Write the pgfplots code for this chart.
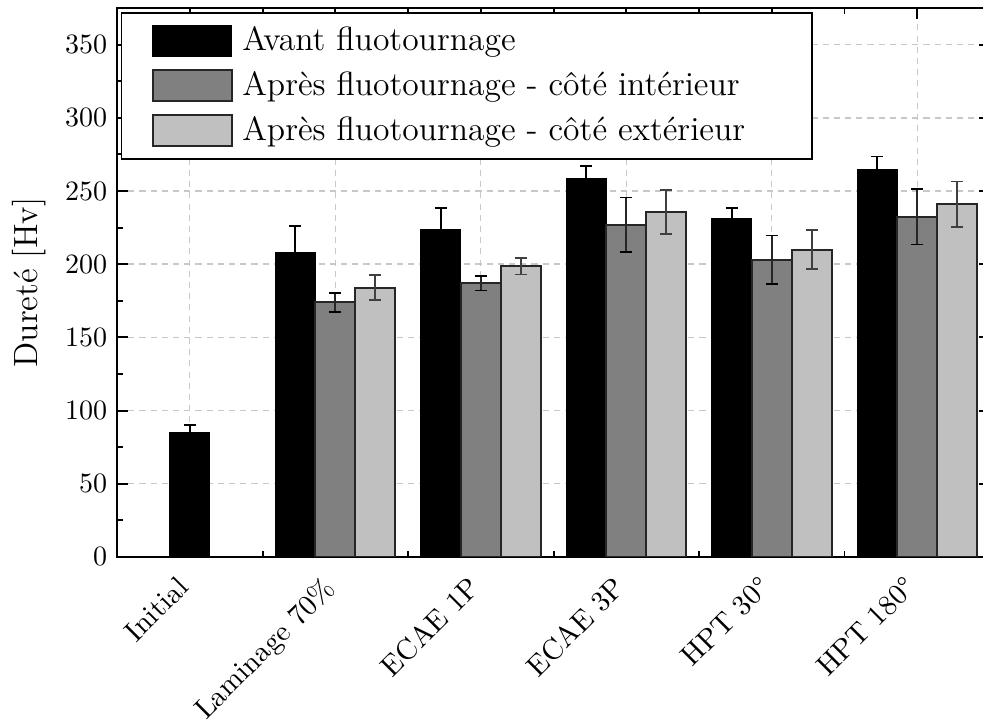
\documentclass[border=0pt]{standalone}
\usepackage{pgfplots}
\pgfplotsset{compat=1.18}
\definecolor{midgray}{HTML}{808080}
\definecolor{lgray}{HTML}{C0C0C0}
\definecolor{gridgray}{HTML}{C8C8C8}
\pgfplotsset{layers/mylayers/.define layer set={axis background,axis grid,main,axis ticks,axis lines,axis tick labels,axis descriptions,axis foreground}{}}
\begin{document}
\begin{tikzpicture}
\begin{axis}[
  set layers=mylayers,
  scale only axis, width=311.8pt, height=196pt,
  xmin=-0.5, xmax=5.5, ymin=0, ymax=375,
  xtick={0,1,2,3,4,5},
  xticklabels={Initial, Laminage 70\%, ECAE 1P, ECAE 3P, HPT 30°, HPT 180°},
  ytick={0,50,100,150,200,250,300,350},
  minor x tick num=1, minor y tick num=1,
  tick align=inside,
  major tick length=4pt, minor tick length=2.2pt,
  every tick/.style={black, line width=0.7pt},
  axis line style={line width=0.8pt},
  grid=major,
  major grid style={gridgray, dash pattern=on 2.2pt off 1.8pt, line width=0.5pt},
  yticklabel style={font=\normalsize},
  xticklabel style={xshift=-5pt, yshift=-1.5pt, rotate=45, anchor=north east, font=\fontsize{10.3}{12}\selectfont},
  ylabel={Dureté [Hv]},
  ylabel style={font=\large},
  legend style={at={(0.004,0.993)}, anchor=north west, draw=black, line width=0.6pt,
    fill=white, font=\large, inner xsep=11pt, inner ysep=3pt, row sep=2pt,
    /tikz/every odd column/.append style={column sep=1.5pt}},
  legend cell align=left,
  error bars/error bar style={line width=0.6pt},
  error bars/error mark options={rotate=90, line width=0.6pt, mark size=2.2pt},
]
\addplot[ybar, bar width=0.275, bar shift=0, fill=black, draw=black, line width=0.5pt,
  legend image code/.code={\draw[fill=black, draw=black, line width=0.5pt] (0pt,-5.5pt) rectangle (28pt,5.5pt);},
  error bars/.cd, y dir=both, y explicit]
  coordinates {(0.725,208) +- (0,18) (1.725,223.5) +- (0,15) (2.725,258.5) +- (0,8.5) (3.725,231) +- (0,7.5) (4.725,264.5) +- (0,9)};
\addlegendentry{Avant fluotournage}
\addplot[ybar, bar width=0.275, bar shift=0, fill=midgray, draw=black!85, line width=0.7pt,
  legend image code/.code={\draw[fill=midgray, draw=black!85, line width=0.7pt] (0pt,-5.5pt) rectangle (28pt,5.5pt);},
  error bars/.cd, y dir=both, y explicit]
  coordinates {(1,174) +- (0,6.5) (2,187) +- (0,5) (3,227) +- (0,18.5) (4,203) +- (0,16.5) (5,232.5) +- (0,19)};
\addlegendentry{Après fluotournage - côté intérieur}
\addplot[ybar, bar width=0.275, bar shift=0, fill=lgray, draw=black!85, line width=0.7pt,
  legend image code/.code={\draw[fill=lgray, draw=black!85, line width=0.7pt] (0pt,-5.5pt) rectangle (28pt,5.5pt);},
  error bars/.cd, y dir=both, y explicit, error bar style={black!75}, error mark options={rotate=90, black!75, line width=0.6pt, mark size=2.2pt}]
  coordinates {(1.275,184) +- (0,8.5) (2.275,198.5) +- (0,5.5) (3.275,235.5) +- (0,15) (4.275,210) +- (0,13.5) (5.275,241) +- (0,15.5)};
\addlegendentry{Après fluotournage - côté extérieur\rule{11pt}{0pt}}
\addplot[ybar, bar width=0.275, bar shift=0, fill=black, draw=black, line width=0.5pt, forget plot,
  error bars/.cd, y dir=both, y explicit]
  coordinates {(0,85) +- (0,5)};
\end{axis}
\pgfresetboundingbox
\useasboundingbox ([shift={(-41.8pt,-58.9pt)}]current axis.south west) rectangle ([shift={(-2.5pt,2.9pt)}]current axis.north east);
\end{tikzpicture}
\end{document}
